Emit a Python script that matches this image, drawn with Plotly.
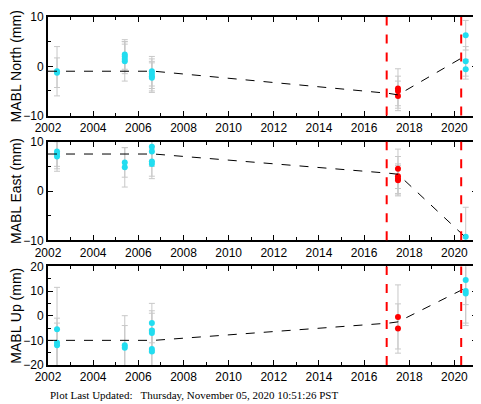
import plotly.graph_objects as go
from plotly.subplots import make_subplots

# observation epochs and offsets (mm)
north_t = [2002.4, 2002.4, 2005.4, 2005.4, 2005.4, 2005.4, 2006.6, 2006.6, 2006.6, 2006.6, 2017.5, 2017.5, 2017.5, 2020.5, 2020.5, 2020.5]
north_v = [-1.0, -1.3, 1.0, 1.5, 2.0, 2.4, -1.0, -1.5, -2.0, -2.3, -4.5, -5.0, -6.0, 6.3, 1.0, -0.6]
north_e = [5, 3, 4, 3, 3, 3, 3, 3, 3, 3, 4, 3, 3, 3, 3, 2]

east_t = [2002.4, 2002.4, 2002.4, 2005.4, 2005.4, 2006.6, 2006.6, 2006.6, 2006.6, 2017.5, 2017.5, 2017.5, 2017.5, 2020.5]
east_v = [7.0, 7.5, 8.0, 4.8, 5.8, 5.5, 6.0, 8.0, 9.0, 4.5, 3.0, 2.5, 2.2, -9.3]
east_e = [3, 3, 3, 4, 3, 3, 3, 3, 3, 4, 4, 3, 3, 6]

up_t = [2002.4, 2002.4, 2002.4, 2005.4, 2005.4, 2006.6, 2006.6, 2006.6, 2006.6, 2006.6, 2017.5, 2017.5, 2020.5, 2020.5, 2020.5]
up_v = [-5.5, -11.0, -12.0, -12.0, -13.0, -3.0, -6.0, -7.0, -13.5, -14.5, -0.5, -5.2, 14.5, 10.0, 9.0]
up_e = [17, 10, 9, 12, 9, 8, 8, 8, 8, 8, 13, 10, 10, 14, 12]

# 1 = after 2017 event (red), 0 = others (cyan)
north_grp = [0]*10 + [1]*3 + [0]*3
east_grp = [0]*9 + [1]*4 + [0]
up_grp = [0]*10 + [1]*2 + [0]*3

# piecewise model
model_t = [2002.0, 2006.7, 2017.1, 2017.5, 2020.4]
north_m = [-1.0, -1.0, -5.5, -5.8, 1.9]
east_m = [7.5, 7.5, 3.6, 3.4, -9.0]
up_m = [-10.0, -10.0, -3.0, -2.5, 10.8]

events = [2017.0, 2020.3]
labels = ["MABL North (mm)", "MABL East (mm)", "MABL Up (mm)"]
ranges = [[-10, 10], [-10, 10], [-20, 20]]

fig = make_subplots(rows=3, cols=1, vertical_spacing=0.075)
series = [(north_t, north_v, north_e, north_grp, north_m),
          (east_t, east_v, east_e, east_grp, east_m),
          (up_t, up_v, up_e, up_grp, up_m)]

for i, (t, v, e, g, m) in enumerate(series, start=1):
    fig.add_trace(go.Scatter(x=t, y=v, mode="markers",
                             marker=dict(size=6, color=["red" if k else "#22ddf0" for k in g]),
                             error_y=dict(type="data", array=e, color="#c8c8c8", thickness=1, width=3)),
                  row=i, col=1)
    fig.add_trace(go.Scatter(x=model_t, y=m, mode="lines",
                             line=dict(color="black", width=1, dash="dash")), row=i, col=1)
    for ev in events:
        fig.add_vline(x=ev, line=dict(color="red", width=2, dash="dash"), row=i, col=1)
    fig.update_yaxes(range=ranges[i-1], dtick=10, title_text=labels[i-1],
                     title_standoff=0, row=i, col=1)
    fig.update_xaxes(range=[2002, 2021], dtick=2, row=i, col=1)

fig.update_xaxes(showgrid=False, zeroline=False, showline=True, linecolor="black", linewidth=2,
                 mirror="ticks", ticks="inside", ticklen=5, tickcolor="black",
                 minor=dict(ticks="inside", ticklen=3, dtick=1, tickcolor="black"))
fig.update_yaxes(showgrid=False, zeroline=False, showline=True, linecolor="black", linewidth=2,
                 mirror="ticks", ticks="inside", ticklen=5, tickcolor="black",
                 minor=dict(ticks="inside", ticklen=3, dtick=5, tickcolor="black"))

fig.add_annotation(text="Plot Last Updated:   Thursday, November 05, 2020 10:51:26 PST",
                   xref="paper", yref="paper", x=-0.0, y=-0.085, xanchor="left", yanchor="middle",
                   showarrow=False,
                   font=dict(family="Liberation Serif", size=11, color="black"))

fig.update_layout(width=473, height=396, showlegend=False, plot_bgcolor="white",
                  paper_bgcolor="white", margin=dict(l=40, r=2, t=2, b=39),
                  font=dict(family="Liberation Sans", size=12, color="black"))
fig.write_html("out.html")
